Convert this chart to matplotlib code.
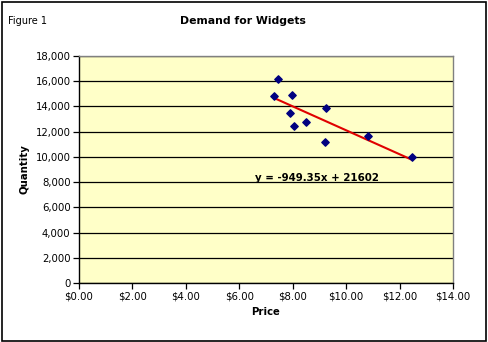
import numpy as np
import matplotlib as mpl
mpl.use('Agg')
import matplotlib.pyplot as plt
from matplotlib.ticker import FuncFormatter, MultipleLocator

# price / quantity observations
price = [7.29, 7.45, 7.97, 7.90, 8.04, 8.49, 9.25, 9.21, 10.81, 12.46]
quantity = [14850, 16150, 14900, 13500, 12450, 12750, 13850, 11200, 11650, 9970]

# fitted trendline
slope = -949.35
intercept = 21602

fig = plt.figure(figsize=(4.88, 3.42), dpi=100)
fig.patch.set_facecolor('white')
W, H = 488.0, 342.0

# outer frame
fig.add_artist(plt.Rectangle((1.5/W, 1.5/H), 484.5/W, 338.5/H, transform=fig.transFigure,
                             fill=False, edgecolor='black', linewidth=1.2))

ax = fig.add_axes([79/W, 1 - 283/H, (453 - 79)/W, (283 - 56)/H])
ax.set_facecolor('#FFFFC8')

ax.set_xlim(0, 14)
ax.set_ylim(0, 18000)
ax.xaxis.set_major_locator(MultipleLocator(2))
ax.yaxis.set_major_locator(MultipleLocator(2000))
ax.xaxis.set_major_formatter(FuncFormatter(lambda v, p: '${:.2f}'.format(v)))
ax.yaxis.set_major_formatter(FuncFormatter(lambda v, p: '{:,.0f}'.format(v)))

ax.grid(axis='y', color='black', linewidth=0.9)
ax.set_axisbelow(True)

for side in ['top', 'right']:
    ax.spines[side].set_color('#808080')
    ax.spines[side].set_linewidth(1.0)
for side in ['left', 'bottom']:
    ax.spines[side].set_color('black')
    ax.spines[side].set_linewidth(1.0)

ax.tick_params(axis='both', direction='out', length=4, width=0.9, labelsize=7.3, pad=2)

ax.scatter(price, quantity, marker='D', s=14, color='#000080', zorder=3)

xs = np.array([min(price), max(price)])
ax.plot(xs, slope * xs + intercept, color='#E00000', linewidth=1.5, zorder=2)

ax.text(6.6, 8350, 'y = -949.35x + 21602', fontsize=7.4, fontweight='bold',
        ha='left', va='center')

ax.set_xlabel('Price', fontsize=7.3, fontweight='bold', labelpad=4)
ax.set_ylabel('Quantity', fontsize=7.3, fontweight='bold', labelpad=4)

fig.text(243/W, 1 - 21/H, 'Demand for Widgets', fontsize=7.8, fontweight='bold',
         ha='center', va='center')
fig.text(8/W, 1 - 21/H, 'Figure 1', fontsize=7, ha='left', va='center')

plt.savefig('out.png', dpi=100)
